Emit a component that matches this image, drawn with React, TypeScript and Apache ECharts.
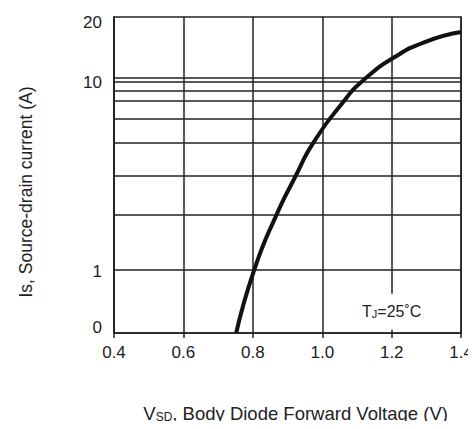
import React, { useEffect, useRef } from "react";
import * as echarts from "echarts";

// Curve: Vsd (V) vs Is (A)
const voltage = [0.752, 0.804, 0.867, 0.924, 0.973, 1.062, 1.119, 1.205, 1.297, 1.4];
const current = [0.464, 1.0, 1.93, 3.14, 4.64, 7.74, 10.0, 13.1, 15.9, 17.9];

// Horizontal grid levels as drawn in the picture
const gridLevels = [1, 1.95, 3.14, 4.7, 6.22, 7.74, 8.74, 9.76, 10.26];

// Axis settings / tick labels
const xTicks = ["0.4", "0.6", "0.8", "1.0", "1.2", "1.4"];
const yMin = 0.464;
const yMax = 21.5;
const noteText = "T{sub|J}=25˚C";
const notePos = [1.2, 0.6];

const FONT = "'Liberation Sans', Arial, sans-serif";
const INK = "#222";

export default function App() {
  const ref = useRef<HTMLDivElement>(null);

  useEffect(() => {
    if (!ref.current) return;
    const chart = echarts.init(ref.current, null, { renderer: "svg" });
    const points = voltage.map((v, i) => [v, current[i]]);
    chart.setOption({
      animation: false,
      backgroundColor: "#fff",
      textStyle: { fontFamily: FONT },
      grid: {
        left: 114,
        top: 17,
        right: 12,
        bottom: 96,
        show: true,
        borderColor: INK,
        borderWidth: 1.5,
      },
      xAxis: {
        type: "value",
        min: 0.4,
        max: 1.4,
        interval: 0.2,
        name: "V{sub|SD}, Body Diode Forward Voltage (V)",
        nameLocation: "middle",
        nameGap: 71,
        nameTextStyle: {
          color: INK,
          fontSize: 18.5,
          fontFamily: FONT,
          padding: [0, 0, 0, 16],
          rich: { sub: { fontSize: 12, color: INK, fontFamily: FONT, verticalAlign: "bottom", padding: [5, 0, 0, 0] } },
        },
        axisLine: { show: true, lineStyle: { color: INK, width: 1.5 } },
        axisTick: { show: true, length: 5, lineStyle: { color: INK, width: 1.5 } },
        axisLabel: {
          color: INK,
          fontSize: 17,
          fontFamily: FONT,
          margin: 11,
          formatter: (v: number) => {
            const i = Math.round((v - 0.4) / 0.2);
            return xTicks[i] ?? "";
          },
        },
        splitLine: { show: true, lineStyle: { color: INK, width: 1.5 } },
      },
      yAxis: {
        type: "log",
        logBase: 10,
        min: yMin,
        max: yMax,
        name: "Is, Source-drain current (A)",
        nameLocation: "middle",
        nameGap: 79,
        nameTextStyle: { color: INK, fontSize: 17.5, fontFamily: FONT, padding: [0, 34, 0, 0] },
        axisLine: { show: true, lineStyle: { color: INK, width: 1.5 } },
        axisTick: { show: false },
        axisLabel: {
          color: INK,
          fontSize: 17,
          fontFamily: FONT,
          margin: 12,
          showMinLabel: true,
          showMaxLabel: true,
          formatter: (v: number) => {
            if (v < 0.9) return "{lo|0}";
            if (v > 15) return "{hi|20}";
            return "{mid|" + String(Math.round(v)) + "}";
          },
          rich: {
            lo: { fontSize: 17, color: INK, fontFamily: FONT, padding: [0, 0, 12, 0] },
            hi: { fontSize: 17, color: INK, fontFamily: FONT, padding: [10, 0, 0, 0] },
            mid: { fontSize: 17, color: INK, fontFamily: FONT, padding: [4, 0, 0, 0] },
          },
        },
        splitLine: { show: false },
      },
      series: [
        {
          type: "line",
          data: points,
          smooth: 0.55,
          symbol: "none",
          lineStyle: { color: "#111", width: 4 },
          z: 5,
          markLine: {
            silent: true,
            symbol: ["none", "none"],
            label: { show: false },
            lineStyle: { color: INK, width: 1.5, type: "solid" },
            data: gridLevels.map((v) => ({ yAxis: v })),
            z: 1,
          },
          markPoint: {
            silent: true,
            symbol: "rect",
            symbolSize: 0,
            data: [{ coord: notePos }],
            label: {
              show: true,
              position: "inside",
              formatter: noteText,
              color: INK,
              fontSize: 16,
              fontFamily: FONT,
              backgroundColor: "#fff",
              padding: [10, 1],
              rich: { sub: { fontSize: 11, color: INK, fontFamily: FONT, verticalAlign: "bottom", padding: [4, 0, 0, 0] } },
            },
          },
        },
      ],
    });
    return () => chart.dispose();
  }, []);

  return <div ref={ref} style={{ width: 476, height: 429, margin: -8 }} />;
}
